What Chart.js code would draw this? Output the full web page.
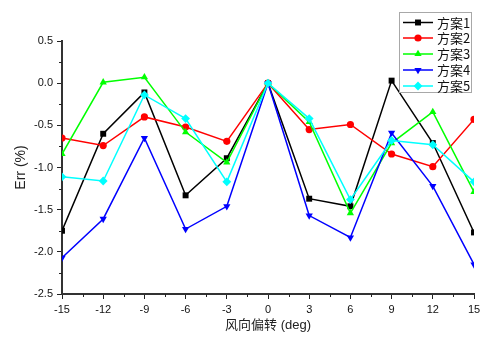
<!DOCTYPE html>
<html><head><meta charset="utf-8">
<script src="https://cdn.jsdelivr.net/npm/chart.js"></script>
<style>html,body{margin:0;padding:0;background:#fff}#wrap{width:500px;height:353px;position:relative}</style>
</head><body><div id="wrap"><canvas id="c" width="500" height="353"></canvas></div>
<script>
const xValues = [-15, -12, -9, -6, -3, 0, 3, 6, 9, 12, 15];
const seriesNames = ['方案1', '方案2', '方案3', '方案4', '方案5'];
const s1 = [-1.75, -0.60, -0.11, -1.33, -0.89, 0.00, -1.37, -1.46, 0.03, -0.71, -1.77];
const s2 = [-0.65, -0.74, -0.40, -0.52, -0.69, 0.00, -0.55, -0.49, -0.84, -0.99, -0.43];
const s3 = [-0.84, 0.01, 0.07, -0.58, -0.94, 0.00, -0.46, -1.54, -0.71, -0.34, -1.29];
const s4 = [-2.07, -1.61, -0.65, -1.73, -1.46, 0.00, -1.57, -1.83, -0.59, -1.22, -2.15];
const s5 = [-1.11, -1.16, -0.14, -0.42, -1.17, 0.00, -0.42, -1.38, -0.68, -0.73, -1.17];
const xTicks = [-15, -12, -9, -6, -3, 0, 3, 6, 9, 12, 15];
const yTicks = [-2.5, -2.0, -1.5, -1.0, -0.5, 0.0, 0.5];

const colors = ['#000000', '#ff0000', '#00ff00', '#0000ff', '#00ffff'];
const styles = ['rect', 'circle', 'triangle', 'triangle', 'rectRot'];
const rots = [0, 0, 0, 180, 0];
const radii = [4.2, 3.6, 4.2, 4.2, 4.4];
const allSeries = [s1, s2, s3, s4, s5];

const LATIN = '"Liberation Sans", Arial, "Noto Sans CJK SC", sans-serif';

const datasets = allSeries.map((s, i) => ({
  label: seriesNames[i],
  data: xValues.map((x, j) => ({x: x, y: s[j]})),
  borderColor: colors[i],
  backgroundColor: colors[i],
  borderWidth: 1.5,
  pointStyle: styles[i],
  rotation: rots[i],
  pointRadius: radii[i],
  pointBorderWidth: 0,
  pointBackgroundColor: colors[i],
  tension: 0,
  order: 5 - i
}));

function drawMarker(ctx, style, x, y, r, rot, color) {
  ctx.save();
  ctx.fillStyle = color;
  ctx.translate(x, y);
  ctx.rotate(rot * Math.PI / 180);
  ctx.beginPath();
  if (style === 'rect') {
    const s = r * Math.SQRT1_2;
    ctx.rect(-s, -s, 2 * s, 2 * s);
  } else if (style === 'circle') {
    ctx.arc(0, 0, r, 0, Math.PI * 2);
  } else if (style === 'triangle') {
    ctx.moveTo(0, -r);
    ctx.lineTo(r * Math.cos(Math.PI / 6), r * 0.5);
    ctx.lineTo(-r * Math.cos(Math.PI / 6), r * 0.5);
    ctx.closePath();
  } else if (style === 'rectRot') {
    ctx.moveTo(0, -r); ctx.lineTo(r, 0); ctx.lineTo(0, r); ctx.lineTo(-r, 0); ctx.closePath();
  }
  ctx.fill();
  ctx.restore();
}

const extras = {
  id: 'extras',
  afterDraw(chart) {
    const ctx = chart.ctx;
    const xs = chart.scales.x, ys = chart.scales.y;
    const ca = chart.chartArea;
    ctx.save();
    ctx.strokeStyle = '#222';
    ctx.lineWidth = 1;
    // minor ticks
    for (let v = -15 + 1.5; v < 15; v += 3) {
      const px = Math.round(xs.getPixelForValue(v)) + 0.5;
      ctx.beginPath(); ctx.moveTo(px, ca.bottom); ctx.lineTo(px, ca.bottom + 3); ctx.stroke();
    }
    for (let v = -2.25; v < 0.5; v += 0.5) {
      const py = Math.round(ys.getPixelForValue(v)) + 0.5;
      ctx.beginPath(); ctx.moveTo(ca.left, py); ctx.lineTo(ca.left - 3, py); ctx.stroke();
    }
    // legend
    const bx = 399.5, by = 12.5, bw = 72, bh = 80;
    ctx.fillStyle = '#fff';
    ctx.fillRect(bx, by, bw, bh);
    ctx.strokeStyle = '#a8a8a8';
    ctx.lineWidth = 1;
    ctx.strokeRect(bx, by, bw, bh);
    const rowY = [22.5, 38, 54, 70, 86];
    ctx.font = '13px "Noto Sans CJK SC", sans-serif';
    ctx.textBaseline = 'middle';
    ctx.textAlign = 'left';
    chart.data.datasets.forEach((ds, i) => {
      const y = rowY[i];
      ctx.strokeStyle = colors[i];
      ctx.lineWidth = 1.5;
      ctx.beginPath(); ctx.moveTo(403, y); ctx.lineTo(433, y); ctx.stroke();
      drawMarker(ctx, styles[i], 418, y, radii[i], rots[i], colors[i]);
      ctx.fillStyle = '#111';
      ctx.fillText(ds.label, 437, y + 0.5);
    });
    ctx.restore();
  }
};

new Chart(document.getElementById('c'), {
  type: 'line',
  data: { datasets },
  plugins: [extras],
  options: {
    responsive: false,
    animation: false,
    devicePixelRatio: 1,
    layout: { padding: { left: 0, top: 41, right: 26, bottom: 20 } },
    plugins: { legend: { display: false }, tooltip: { enabled: false } },
    scales: {
      x: {
        type: 'linear',
        min: -15, max: 15,
        afterBuildTicks(scale) { scale.ticks = xTicks.map(v => ({value: v})); },
        afterFit(scale) { scale.height = 39; },
        ticks: { color: '#111', font: { family: LATIN, size: 11 }, padding: 4, maxRotation: 0,
                 callback: v => String(v) },
        grid: { drawOnChartArea: false, drawTicks: true, tickLength: 5, color: '#222', lineWidth: 1 },
        border: { display: true, color: '#333', width: 2 },
        title: { display: true, text: '风向偏转 (deg)', color: '#222',
                 font: { family: '"Liberation Sans", "Noto Sans CJK SC", sans-serif', size: 13 },
                 padding: { top: 0, bottom: 0 } }
      },
      y: {
        type: 'linear',
        min: -2.5, max: 0.5,
        afterBuildTicks(scale) { scale.ticks = yTicks.map(v => ({value: v})); },
        afterFit(scale) { scale.width = 62; },
        ticks: { color: '#111', font: { family: LATIN, size: 11 }, padding: 4,
                 callback: v => Number(v).toFixed(1) },
        grid: { drawOnChartArea: false, drawTicks: true, tickLength: 5, color: '#222', lineWidth: 1 },
        border: { display: true, color: '#333', width: 2 },
        title: { display: true, text: 'Err (%)', color: '#222',
                 font: { family: LATIN, size: 14 }, padding: { top: 13, bottom: 0 } }
      }
    }
  }
});
</script></body></html>
